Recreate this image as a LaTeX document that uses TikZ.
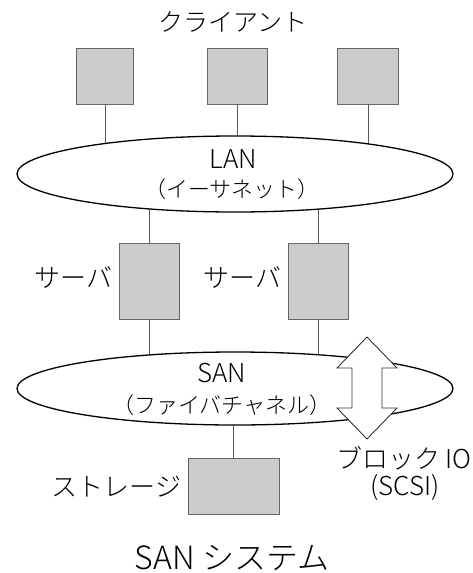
\documentclass[tikz,border=0pt]{standalone}
\usepackage{fontspec}
\setmainfont{Noto Sans CJK JP}[UprightFont={* Light}]
\usetikzlibrary{shapes.geometric}
\begin{document}
\begin{tikzpicture}[x=1pt,y=-1pt,
  box/.style={draw=black!60,fill=black!20,line width=0.9pt,inner sep=0pt},
  net/.style={ellipse,draw=black,fill=white,line width=1.3pt,inner sep=0pt},
  conn/.style={draw=black!65,line width=0.9pt},
  lbl/.style={font=\fontsize{26}{28}\selectfont,inner sep=0pt},
  nlat/.style={font=\fontsize{26}{28}\selectfont,inner sep=0pt,anchor=base},
  njp/.style={font=\fontsize{22}{26}\selectfont,inner sep=0pt}]
\useasboundingbox (0,0) rectangle (473,573);
% labels
\node[lbl,font=\fontsize{25}{28}\selectfont] (tclient) at (233,22) {クライアント};
% clients
\node[box,minimum width=57,minimum height=56] (c1) at (105,76) {};
\node[box,minimum width=60,minimum height=56] (c2) at (237,76) {};
\node[box,minimum width=61,minimum height=56] (c3) at (368,76) {};
% servers
\node[box,minimum width=60,minimum height=76] (s1) at (149,281) {};
\node[box,minimum width=60,minimum height=76] (s2) at (318,281) {};
% storage
\node[box,minimum width=91,minimum height=56] (st) at (233.5,486) {};
% networks coordinates
\coordinate (lanc) at (235,174);
\coordinate (sanc) at (235,388.5);
% connectors (behind ellipses)
\draw[conn] (c1.south) -- (c1.south |- lanc);
\draw[conn] (c2.south) -- (c2.south |- lanc);
\draw[conn] (c3.south) -- (c3.south |- lanc);
\draw[conn] (s1.north |- lanc) -- (s1.north);
\draw[conn] (s1.south) -- (s1.south |- sanc);
\draw[conn] (s2.north |- lanc) -- (s2.north);
\draw[conn] (s2.south) -- (s2.south |- sanc);
\draw[conn] (st.north |- sanc) -- (st.north);
% ellipses
\node[net,minimum width=436,minimum height=76] (lan) at (lanc) {};
\node[net,minimum width=436,minimum height=73] (san) at (sanc) {};
\node[nlat] (lant) at (233,168) {LAN};
\node[njp] (lant2) at (232,189) {（イーサネット）};
\node[nlat] (sant) at (222,382) {SAN};
\node[njp] (sant2) at (222,405) {（ファイバチャネル）};
% double arrow
\draw[fill=white,draw=black!80,line width=0.9pt] (367,337) -- (397,368) -- (382,368) -- (382,408) -- (397,408) -- (367,439) -- (337,408) -- (352,408) -- (352,368) -- (337,368) -- cycle;
% other labels
\node[lbl,anchor=east] (ls1) at (s1.west) [xshift=-6pt,yshift=4pt] {サーバ};
\node[lbl,anchor=east] (ls2) at (s2.west) [xshift=-6pt,yshift=4pt] {サーバ};
\node[lbl,anchor=east] (lst) at (st.west) [xshift=-6pt,yshift=-1pt] {ストレージ};
\node[lbl] (lio) at (404,458) {ブロック IO};
\node[lbl] (lscsi) at (405,487) {(SCSI)};
\node[font=\fontsize{32}{34}\selectfont,inner sep=0pt,anchor=base] (title) at (232,569) {SAN システム};
\end{tikzpicture}
\end{document}
